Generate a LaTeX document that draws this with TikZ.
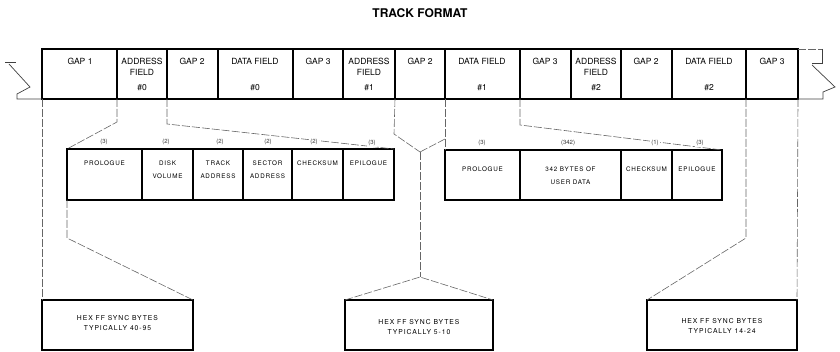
\documentclass[tikz,border=0pt]{standalone}
\usepackage{fontspec}
\setmainfont{TeX Gyre Heros}
\begin{document}
\begin{tikzpicture}[x=1pt,y=-1pt,
  cell/.style={draw=black, line width=1.2pt, minimum height=50pt, anchor=north west, inner sep=0pt, outer sep=0pt},
  conn/.style={draw=black!60, line width=0.6pt, dash pattern=on 8pt off 2pt},
  brk/.style={draw=black!75, line width=0.7pt},
  title/.style={font=\fontsize{12}{14}\bfseries\selectfont, inner sep=0pt},
  ft/.style={font=\fontsize{8.5}{10}\selectfont, inner sep=0pt},
  sub/.style={font=\fontsize{6.3}{12.5}\addfontfeatures{LetterSpace=12}\selectfont, align=center, inner sep=0pt, anchor=north},
  syn/.style={font=\fontsize{6.8}{9.5}\addfontfeatures{LetterSpace=14}\selectfont, align=center, inner sep=0pt},
  cnt/.style={font=\fontsize{6}{7}\selectfont, fill=white, inner sep=1pt, text=black!80}
]
\useasboundingbox (0,0) rectangle (840,352);
\node[title] (title) at (420,13) {TRACK FORMAT};

% ---- track strip
\foreach \n/\a/\w in {g1/42/75, a0/117/50, g2a/167/51, d0/218/75, g3a/293/50, a1/343/52, g2b/395/50, d1/445/75, g3b/520/51, a2/571/50, g2c/621/51, d2/672/74, g3c/746/52}
  \node[cell, minimum width={\w*1pt}] (\n) at (\a,49) {};

\node[ft] (tg1) at (80,61) {GAP 1};
\node[ft] (ta0a) at (142,61) {ADDRESS};
\node[ft] (ta0b) at (142,72) {FIELD};
\node[ft] (ta0c) at (142,88) {\#0};
\node[ft] (tg2a) at (192,61) {GAP 2};
\node[ft] (td0a) at (255,61) {DATA FIELD};
\node[ft] (td0b) at (255,88) {\#0};
\node[ft] (tg3a) at (318,61) {GAP 3};
\node[ft] (ta1a) at (369,61) {ADDRESS};
\node[ft] (ta1b) at (369,72) {FIELD};
\node[ft] (ta1c) at (369,88) {\#1};
\node[ft] (tg2b) at (420,61) {GAP 2};
\node[ft] (td1a) at (482,61) {DATA FIELD};
\node[ft] (td1b) at (482,88) {\#1};
\node[ft] (tg3b) at (545,61) {GAP 3};
\node[ft] (ta2a) at (596,61) {ADDRESS};
\node[ft] (ta2b) at (596,72) {FIELD};
\node[ft] (ta2c) at (596,88) {\#2};
\node[ft] (tg2c) at (646,61) {GAP 2};
\node[ft] (td2a) at (709,61) {DATA FIELD};
\node[ft] (td2b) at (709,88) {\#2};
\node[ft] (tg3c) at (772,61) {GAP 3};

% ---- break symbols
\draw[brk] (5,62) -- (16,62);
\draw[brk] (9,64) -- (30,87) -- (17,94) -- (17,99) -- (g1.south west);
\draw[conn] (g3c.north east) -- (822,49);
\draw[brk] (822,49) -- (822,63) -- (812,63);
\draw[brk] (812,65) -- (835,87) -- (823,92) -- (823,99) -- (g3c.south east);

% ---- address field detail
\foreach \n/\a/\w in {ap/67/75, av/142/51, at/193/50, as/243/49, ac/292/51, ae/343/51}
  \node[cell, minimum width={\w*1pt}, minimum height=51pt] (\n) at (\a,149) {};
\node[sub] (tap) at (104.5,161) {PROLOGUE};
\node[sub] (tav) at (167.5,161) {DISK\\VOLUME};
\node[sub] (tat) at (218,161) {TRACK\\ADDRESS};
\node[sub] (tas) at (267.5,161) {SECTOR\\ADDRESS};
\node[sub] (tac) at (317.5,161) {CHECKSUM};
\node[sub] (tae) at (368.5,161) {EPILOGUE};

% ---- data field detail
\foreach \n/\a/\w in {dp/445/75, du/520/101, dc/621/51, de/672/50}
  \node[cell, minimum width={\w*1pt}] (\n) at (\a,150) {};
\node[sub] (tdp) at (482.5,167) {PROLOGUE};
\node[sub] (tdu) at (570.5,167) {342 BYTES OF\\USER DATA};
\node[sub] (tdc) at (646.5,167) {CHECKSUM};
\node[sub] (tde) at (697,167) {EPILOGUE};

% ---- gap boxes
\node[cell, minimum width=151pt] (lb) at (42,300) {};
\node[cell, minimum width=148pt] (mb) at (345,300) {};
\node[cell, minimum width=150pt] (rb) at (647,300) {};
\node[syn] (tlb) at (117.5,323) {HEX FF SYNC BYTES\\TYPICALLY 40-95};
\node[syn] (tmb) at (419,327) {HEX FF SYNC BYTES\\TYPICALLY 5-10};
\node[syn] (trb) at (722,326) {HEX FF SYNC BYTES\\TYPICALLY 14-24};

% ---- connectors
\coordinate (k1) at (117,122);
\coordinate (k2) at (67,238);
\coordinate (k3) at (167,124);
\coordinate (k4) at (394,134);
\coordinate (k5) at (445,139);
\coordinate (v) at (420,152);
\coordinate (mt) at (420,277);
\coordinate (k6) at (520,125);
\coordinate (k7) at (746,238);

\draw[conn] (g1.south west) -- (lb.north west);
\draw[conn] (g1.south east) -- (k1) -- (ap.north west);
\draw[conn] (ap.south west) -- (k2) -- (lb.north east);
\draw[conn] (a0.south east) -- (k3) -- (ae.north east);
\draw[conn] (g2b.south west) -- (k4) -- (v);
\draw[conn] (g2b.south east) -- (dp.north west);
\draw[conn] (k5) -- (v);
\draw[conn] (v) -- (mt);
\draw[conn] (mb.north west) -- (mt) -- (mb.north east);
\draw[conn] (d1.south east) -- (k6) -- (de.north east);
\draw[conn] (d2.south east) -- (k7) -- (rb.north west);
\draw[conn] (g3c.south east) -- (rb.north east);

% ---- byte counts
\node[cnt] (c1) at (104,142) {(3)};
\node[cnt] (c2) at (166,142) {(2)};
\node[cnt] (c3) at (220,142) {(2)};
\node[cnt] (c4) at (268,142) {(2)};
\node[cnt] (c5) at (314,142) {(2)};
\node[cnt] (c6) at (372,143) {(3)};
\node[cnt] (c7) at (482,143) {(3)};
\node[cnt] (c8) at (568,143) {(342)};
\node[cnt] (c9) at (655,143) {(1)};
\node[cnt] (c10) at (700,143) {(3)};
\end{tikzpicture}
\end{document}
